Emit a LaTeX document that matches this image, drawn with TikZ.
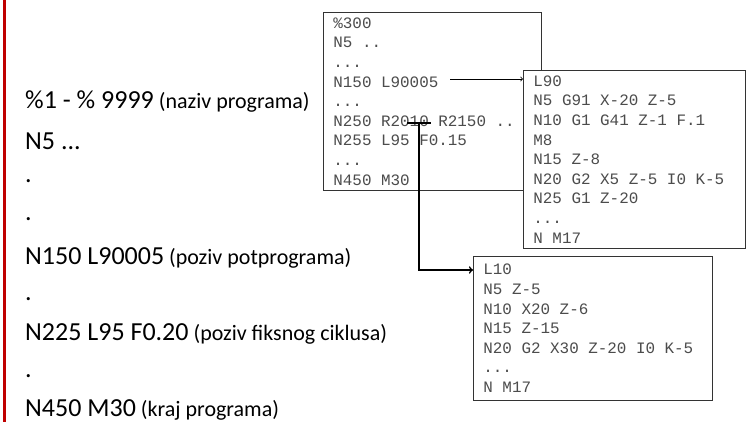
\documentclass[tikz,border=0pt]{standalone}
\usepackage{fontspec}
\setmainfont{Carlito}
\newfontfamily\codefont{Liberation Mono}
\usetikzlibrary{positioning}
\definecolor{barred}{RGB}{192,0,0}
\newcommand{\note}[1]{\hspace{5pt}{\fontsize{22}{24}\selectfont(#1)}}
\begin{document}
\begin{tikzpicture}[x=1pt,y=-1pt,
        line/.style={anchor=west,inner sep=0pt,font=\fontsize{26}{28}\selectfont},
        listing/.style={draw=black!80,fill=white,line width=0.8pt,align=left,anchor=north west,
            inner xsep=10pt,inner ysep=0pt,text=black!70,
            font=\codefont\fontsize{15.9}{19.6}\selectfont,
            execute at begin node={\spaceskip 9.54pt\relax\xspaceskip 9.54pt\relax}},
        ]
        \useasboundingbox (0,0) rectangle (749,422);
        \draw[barred,line width=3pt] (4,0) -- (4,422);
        % main program, left column
        \node[line] (head) at (25,102) {\%1 - \% 9999\note{naziv programa}};
        \node[line] (n5) at (25,141) {N5 ...};
        \foreach \y/\n in {181/d1,219/d2,299/d3,376/d4}
            \node[line] (\n) at (25,\y) {.};
        \node[line] (n150) at (25,258) {N150 L90005\note{poziv potprograma}};
        \node[line] (n225) at (25,334) {N225 L95 F0.20\note{poziv fiksnog ciklusa}};
        \node[line] (n450) at (25,410) {N450 M30\note{kraj programa}};
        % listings
        \node[listing,text width=198pt,minimum height=178pt] (prog) at (323,12)
            {\%300\\N5 ..\\...\\N150 L90005\\...\\N250 R2010 R2150 ..\\N255 L95 F0.15\\...\\N450 M30};
        \node[listing,text width=202pt,minimum height=178pt] (sub90) at (523,70)
            {L90\\N5 G91 X-20 Z-5\\N10 G1 G41 Z-1 F.1\\M8\\N15 Z-8\\N20 G2 X5 Z-5 I0 K-5\\N25 G1 Z-20\\...\\N M17};
        \node[listing,text width=219pt,minimum height=144pt] (sub10) at (473,256)
            {L10\\N5 Z-5\\N10 X20 Z-6\\N15 Z-15\\N20 G2 X30 Z-20 I0 K-5\\...\\N M17};
        % calls
        \coordinate (call90) at (450,79);
        \coordinate (call10) at (419,123);
        \draw[->,line width=0.8pt] (call90) -- (call90 -| sub90.west);
        \draw[line width=2pt] ([xshift=-12pt]call10) -- ([xshift=12pt]call10);
        \draw[->,line width=1.6pt] (call10) |- ([yshift=-14pt]sub10.north west);
\end{tikzpicture}
\end{document}
